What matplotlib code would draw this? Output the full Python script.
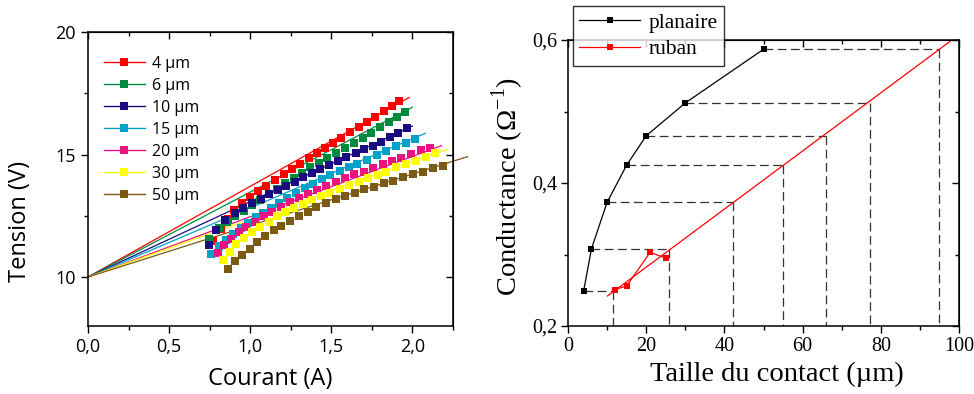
import matplotlib
matplotlib.use("Agg")
import matplotlib.pyplot as plt
from matplotlib.ticker import MultipleLocator, FuncFormatter
from matplotlib.lines import Line2D

# ---------------- Left panel data: Tension vs Courant ----------------
labels = ["4 µm", "6 µm", "10 µm", "15 µm", "20 µm", "30 µm", "50 µm"]
colors = ["#ff0000", "#008a3e", "#1a0c80", "#00a2c8", "#ea1480", "#ffff00", "#7b5b14"]

i_4 = [0.77, 0.82, 0.86, 0.90, 0.95, 1.00, 1.05, 1.10, 1.155, 1.206, 1.257, 1.309, 1.36, 1.41,
       1.463, 1.51, 1.561, 1.612, 1.668, 1.719, 1.771, 1.822, 1.875, 1.92]
v_4 = [11.45, 11.95, 12.35, 12.75, 13.03, 13.28, 13.51, 13.73, 13.96, 14.19, 14.41, 14.61, 14.87, 15.07,
       15.26, 15.48, 15.68, 15.90, 16.11, 16.34, 16.54, 16.77, 16.97, 17.19]
i_6 = [0.744, 0.805, 0.857, 0.908, 0.959, 1.01, 1.062, 1.114, 1.165, 1.216, 1.268, 1.319, 1.37, 1.423,
       1.475, 1.526, 1.582, 1.639, 1.695, 1.746, 1.797, 1.853, 1.904, 1.955]
v_6 = [11.56, 12.02, 12.24, 12.47, 12.70, 12.94, 13.15, 13.39, 13.60, 13.83, 14.06, 14.26, 14.48, 14.67,
       14.87, 15.07, 15.28, 15.46, 15.68, 15.89, 16.11, 16.34, 16.54, 16.72]
i_10 = [0.744, 0.791, 0.847, 0.904, 0.955, 1.011, 1.064, 1.115, 1.171, 1.222, 1.274, 1.325, 1.38, 1.432,
        1.485, 1.541, 1.592, 1.649, 1.70, 1.756, 1.808, 1.859, 1.91, 1.968]
v_10 = [11.32, 11.93, 12.33, 12.61, 12.81, 13.01, 13.19, 13.38, 13.55, 13.73, 13.89, 14.07, 14.23, 14.41,
        14.57, 14.74, 14.89, 15.05, 15.21, 15.36, 15.52, 15.70, 15.86, 16.07]
i_15 = [0.76, 0.805, 0.853, 0.894, 0.941, 0.986, 1.033, 1.078, 1.13, 1.177, 1.228, 1.284, 1.335, 1.386,
        1.442, 1.494, 1.551, 1.606, 1.66, 1.72, 1.78, 1.84, 1.90, 1.96, 2.017]
v_15 = [10.95, 11.27, 11.52, 11.76, 12.0, 12.22, 12.43, 12.62, 12.83, 13.02, 13.22, 13.42, 13.62, 13.80,
        13.99, 14.17, 14.32, 14.47, 14.62, 14.79, 14.97, 15.15, 15.33, 15.48, 15.63]
i_20 = [0.801, 0.838, 0.883, 0.928, 0.976, 1.031, 1.083, 1.134, 1.187, 1.243, 1.30, 1.356, 1.413, 1.469,
        1.526, 1.584, 1.641, 1.699, 1.756, 1.818, 1.873, 1.931, 1.993, 2.05, 2.11]
v_20 = [11.0, 11.29, 11.56, 11.83, 12.04, 12.26, 12.47, 12.67, 12.87, 13.05, 13.24, 13.39, 13.55, 13.72,
        13.87, 14.03, 14.19, 14.30, 14.46, 14.60, 14.74, 14.87, 15.02, 15.18, 15.28]
i_30 = [0.832, 0.873, 0.914, 0.961, 1.011, 1.058, 1.113, 1.165, 1.216, 1.269, 1.325, 1.383, 1.438, 1.494,
        1.551, 1.608, 1.67, 1.725, 1.787, 1.839, 1.90, 1.962, 2.023, 2.085, 2.142]
v_30 = [10.70, 11.04, 11.34, 11.59, 11.83, 12.06, 12.26, 12.47, 12.65, 12.83, 12.98, 13.15, 13.31, 13.44,
        13.60, 13.76, 13.89, 14.03, 14.17, 14.30, 14.48, 14.61, 14.75, 14.89, 15.05]
i_50 = [0.863, 0.904, 0.949, 0.996, 1.044, 1.093, 1.146, 1.191, 1.247, 1.298, 1.356, 1.407, 1.469, 1.526,
        1.582, 1.643, 1.70, 1.76, 1.822, 1.879, 1.941, 2.003, 2.064, 2.126, 2.187]
v_50 = [10.33, 10.64, 10.91, 11.15, 11.43, 11.68, 11.90, 12.10, 12.29, 12.47, 12.67, 12.85, 13.04, 13.18,
        13.32, 13.44, 13.58, 13.69, 13.83, 13.93, 14.07, 14.21, 14.30, 14.44, 14.55]

currents = [i_4, i_6, i_10, i_15, i_20, i_30, i_50]
voltages = [v_4, v_6, v_10, v_15, v_20, v_30, v_50]

# linear fits: V = fit_v0 + slope * I, drawn from I = 0 to fit_end
fit_v0 = 10.0
fit_slopes = [3.70, 3.465, 3.08, 2.82, 2.46, 2.35, 2.10]
fit_end = [1.98, 2.00, 2.00, 2.08, 2.18, 2.22, 2.34]

# ---------------- Right panel data: Conductance vs contact size ----------------
planaire_x = [4, 6, 10, 15, 20, 30, 50]
planaire_y = [0.249, 0.308, 0.373, 0.425, 0.466, 0.512, 0.587]
ruban_x = [12, 15, 21, 25]
ruban_y = [0.251, 0.256, 0.303, 0.295]
ruban_fit_x = [10.1, 97.7]
ruban_fit_y = [0.242, 0.598]
equiv_x = [11.5, 25.9, 42.2, 55.0, 66.0, 77.3, 94.9]

W, H = 974, 394
fig = plt.figure(figsize=(W / 100, H / 100), dpi=100)

sans = ["Open Sans", "DejaVu Sans"]
serif = ["Liberation Serif", "DejaVu Serif"]


def mirror_ticks(ax, xmaj, xmin, ymaj, ymin):
    top = ax.secondary_xaxis("top")
    top.xaxis.set_major_locator(MultipleLocator(xmaj))
    top.xaxis.set_minor_locator(MultipleLocator(xmin))
    top.tick_params(which="both", direction="in", labeltop=False, width=1)
    top.tick_params(which="major", length=5)
    top.tick_params(which="minor", length=3)
    right = ax.secondary_yaxis("right")
    right.yaxis.set_major_locator(MultipleLocator(ymaj))
    right.yaxis.set_minor_locator(MultipleLocator(ymin))
    right.tick_params(which="both", direction="in", labelright=False, width=1)
    right.tick_params(which="major", length=5)
    right.tick_params(which="minor", length=3)


# ---------- left axes ----------
ax1 = fig.add_axes([88 / W, 1 - 326 / H, (453 - 88) / W, (326 - 32) / H])
for sl, xe, c in zip(fit_slopes, fit_end, colors):
    ax1.plot([0, xe], [fit_v0, fit_v0 + sl * xe], color=c, lw=0.9, clip_on=False, zorder=2)
for xs, ys, c in zip(currents, voltages, colors):
    ax1.plot(xs, ys, ls="none", marker="s", ms=5.2, mfc=c, mec=c, mew=0, zorder=3)

ax1.set_xlim(0, 2.25)
ax1.set_ylim(8, 20)
ax1.xaxis.set_major_locator(MultipleLocator(0.5))
ax1.xaxis.set_minor_locator(MultipleLocator(0.25))
ax1.yaxis.set_major_locator(MultipleLocator(5))
ax1.yaxis.set_minor_locator(MultipleLocator(2.5))
ax1.xaxis.set_major_formatter(FuncFormatter(lambda v, p: f"{v:.1f}".replace(".", ",")))
ax1.yaxis.set_major_formatter(FuncFormatter(lambda v, p: f"{v:.0f}"))
ax1.tick_params(which="both", direction="out", top=False, right=False, width=1)
ax1.tick_params(which="major", length=5, labelsize=13, pad=4)
ax1.tick_params(which="minor", length=3)
for lab in ax1.get_xticklabels() + ax1.get_yticklabels():
    lab.set_family(sans)
for s in ax1.spines.values():
    s.set_linewidth(1.1)
mirror_ticks(ax1, 0.5, 0.25, 5, 2.5)

handles = [Line2D([], [], color=c, lw=1.0, marker="s", ms=5.2, mfc=c, mec=c, mew=0) for c in colors]
ax1.legend(handles, labels, loc="upper left", bbox_to_anchor=(0.043, 0.92), frameon=False,
           borderpad=0, borderaxespad=0, handlelength=2.6, handletextpad=0.42, labelspacing=0.38,
           prop={"family": sans, "size": 11.5})

fig.text(270 / W, 1 - 379 / H, "Courant (A)", ha="center", va="center", fontsize=17, family=sans)
fig.text(20 / W, 1 - 222 / H, "Tension (V)", ha="center", va="center", rotation=90, fontsize=17, family=sans)

# ---------- right axes ----------
ax2 = fig.add_axes([568 / W, 1 - 326 / H, (959 - 568) / W, (326 - 40) / H])
dash = (0, (7, 3.6))
for px, py, ex in zip(planaire_x, planaire_y, equiv_x):
    ax2.plot([px, ex], [py, py], color="#333333", lw=0.9, ls=dash, zorder=1)
    ax2.plot([ex, ex], [py, 0.2], color="#333333", lw=0.9, ls=dash, zorder=1)
ax2.plot(ruban_fit_x, ruban_fit_y, color="#ff0000", lw=0.9, zorder=2)
l1, = ax2.plot(planaire_x, planaire_y, color="black", lw=0.9, marker="s", ms=5,
               mfc="black", mec="black", mew=0, zorder=3)
l2, = ax2.plot(ruban_x, ruban_y, color="#ff0000", lw=0.9, marker="s", ms=5,
               mfc="#ff0000", mec="#ff0000", mew=0, zorder=3)

ax2.set_xlim(0, 100)
ax2.set_ylim(0.2, 0.6)
ax2.xaxis.set_major_locator(MultipleLocator(20))
ax2.xaxis.set_minor_locator(MultipleLocator(10))
ax2.yaxis.set_major_locator(MultipleLocator(0.2))
ax2.yaxis.set_minor_locator(MultipleLocator(0.1))
ax2.xaxis.set_major_formatter(FuncFormatter(lambda v, p: f"{v:.0f}"))
ax2.yaxis.set_major_formatter(FuncFormatter(lambda v, p: f"{v:.1f}".replace(".", ",")))
ax2.tick_params(which="both", direction="out", width=1)
ax2.tick_params(which="major", length=5, labelsize=14.5, pad=3)
ax2.tick_params(which="minor", length=3)
for lab in ax2.get_xticklabels() + ax2.get_yticklabels():
    lab.set_family(serif)
for s in ax2.spines.values():
    s.set_linewidth(1.1)
mirror_ticks(ax2, 20, 10, 0.2, 0.1)

leg2 = fig.legend([l1, l2], ["planaire", "ruban"], loc="upper left",
                  bbox_to_anchor=(573 / W, 1 - 6 / H), frameon=True, fancybox=False,
                  edgecolor="black", borderpad=0.3, borderaxespad=0, handlelength=2.8,
                  handletextpad=0.4, labelspacing=0.3, prop={"family": serif, "size": 15.5})
leg2.get_frame().set_linewidth(1.0)

fig.text(777 / W, 1 - 374 / H, "Taille du contact (µm)", ha="center", va="center",
         fontsize=20.5, family=serif)
fig.text(508 / W, 1 - 186 / H, "Conductance (Ω$^{\\mathregular{-1}}$)", ha="center", va="center",
         rotation=90, fontsize=20.5, family=serif)

fig.savefig("out.png", dpi=100)
